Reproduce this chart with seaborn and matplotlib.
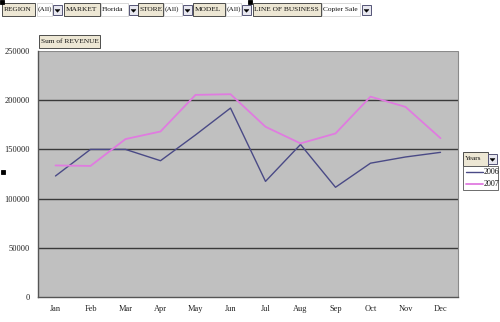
import matplotlib
matplotlib.use("Agg")
import matplotlib.pyplot as plt
import matplotlib.patches as mpatches
import seaborn as sns
import pandas as pd

months = ["Jan", "Feb", "Mar", "Apr", "May", "Jun", "Jul", "Aug", "Sep", "Oct", "Nov", "Dec"]
rev_2006 = [123000, 150000, 150000, 138500, 164700, 192000, 117500, 155000, 111500, 136000, 142300, 147000]
rev_2007 = [133700, 133200, 160500, 168200, 205400, 206100, 173000, 156100, 166200, 203600, 193200, 161400]
years = ["2006", "2007"]
y_ticks = [0, 50000, 100000, 150000, 200000, 250000]
filters = [("REGION", "(All)"), ("MARKET", "Florida"), ("STORE", "(All)"),
           ("MODEL", "(All)"), ("LINE OF BUSINESS", "Copier Sale")]

df = pd.DataFrame({
    "Month": months * 2,
    "Revenue": rev_2006 + rev_2007,
    "Years": [years[0]] * 12 + [years[1]] * 12,
})

sns.set_theme(style="white")
plt.rcParams["font.family"] = ["Liberation Serif", "DejaVu Serif"]

W, H = 500, 322
fig = plt.figure(figsize=(W / 100, H / 100), dpi=100)
fig.patch.set_facecolor("white")
ax = fig.add_axes([38 / W, 1 - 297 / H, 420 / W, 246 / H])
ax.set_facecolor("#C0C0C0")

palette = {"2006": "#4A4A86", "2007": "#E07BE0"}
sns.lineplot(data=df, x="Month", y="Revenue", hue="Years", palette=palette,
             sort=False, ax=ax, legend=False, zorder=3)
for line, lw in zip(ax.lines, [1.0, 1.3]):
    line.set_linewidth(lw)

ax.set_xlim(-0.5, 11.5)
ax.set_ylim(0, 250000)
ax.set_yticks(y_ticks)
ax.set_yticklabels([str(v) for v in y_ticks])
ax.set_xticks(range(12))
ax.set_xticklabels(months)
ax.set_xlabel("")
ax.set_ylabel("")
for v in y_ticks[1:-1]:
    ax.axhline(v, color="#3A3A3A", lw=1.0, zorder=1)
ax.axhline(250000, color="#8A8A8A", lw=0.8, zorder=1)

for s in ["top", "right"]:
    ax.spines[s].set_visible(False)
ax.spines["left"].set_color("#555555")
ax.spines["bottom"].set_color("#555555")
ax.spines["left"].set_linewidth(1.0)
ax.spines["bottom"].set_linewidth(1.0)
ax.plot([1, 1], [0, 1], transform=ax.transAxes, color="#8A8A8A", lw=0.8, clip_on=False)

ax.tick_params(axis="both", labelsize=6, colors="#222222", length=0)
ax.set_xticks([i - 0.5 for i in range(13)], minor=True)
ax.tick_params(axis="x", which="minor", length=3, width=0.8, color="#555555")
ax.tick_params(axis="x", which="major", pad=6)
ax.tick_params(axis="y", which="major", length=3, width=0.8, color="#555555", pad=3)


def fx(x):
    return x / W


def fy(y):
    return 1 - y / H


def box(x0, y0, x1, y1, face, edge="#333333", lw=0.6):
    r = mpatches.Rectangle((fx(x0), fy(y1)), fx(x1) - fx(x0), fy(y0) - fy(y1),
                           transform=fig.transFigure, facecolor=face, edgecolor=edge,
                           lw=lw, zorder=5)
    fig.add_artist(r)


def button(x0, y0, size=9):
    box(x0, y0, x0 + size, y0 + size + 1, "#E8E8F0", edge="#555577", lw=0.7)
    cx = x0 + size / 2
    cy = y0 + size / 2 + 1
    tri = mpatches.Polygon([(fx(cx - 2.5), fy(cy - 1)), (fx(cx + 2.5), fy(cy - 1)),
                            (fx(cx), fy(cy + 1.8))], closed=True,
                           transform=fig.transFigure, facecolor="black",
                           edgecolor="black", lw=0.3, zorder=6)
    fig.add_artist(tri)


def label(x, y, s, size=5.3):
    fig.text(fx(x), fy(y), s, fontsize=size, ha="left", va="center",
             color="#111111", zorder=7)


# filter bar
layout = [(2, 35, 37, 52, 53), (64, 100, 101, 128, 129), (138, 163, 164, 182, 183),
          (193, 225, 226, 241, 242), (253, 321, 322, 360, 362)]
for (name, val), (a0, a1, b0, b1, btn) in zip(filters, layout):
    box(a0, 3, a1, 16, "#EDE7D4")
    label(a0 + 1.5, 9.5, name)
    box(b0, 3, b1, 16, "white", edge="#BBBBBB", lw=0.4)
    label(b0 + 1, 9.5, val)
    button(btn, 5)

# selection handles
for (hx, hy) in [(0, 0), (248, 0), (1, 170)]:
    box(hx, hy, hx + 4, hy + 4, "black", edge="black")

# data field label
box(39, 35, 100, 48, "#EDE7D4")
label(41, 41.5, "Sum of REVENUE")

# legend
box(463, 152, 488, 166, "#EDE7D4")
label(465, 159, "Years")
button(488, 154)
box(463, 166, 498, 190, "white", edge="#555555")
for i, yr in enumerate(years):
    yy = 172 + i * 12
    fig.add_artist(plt.Line2D([fx(466), fx(483)], [fy(yy), fy(yy)],
                              transform=fig.transFigure, color=palette[yr],
                              lw=1.0 if i == 0 else 1.3, zorder=7))
    label(484, yy, yr, size=5.8)

fig.savefig("out.png", dpi=100)
